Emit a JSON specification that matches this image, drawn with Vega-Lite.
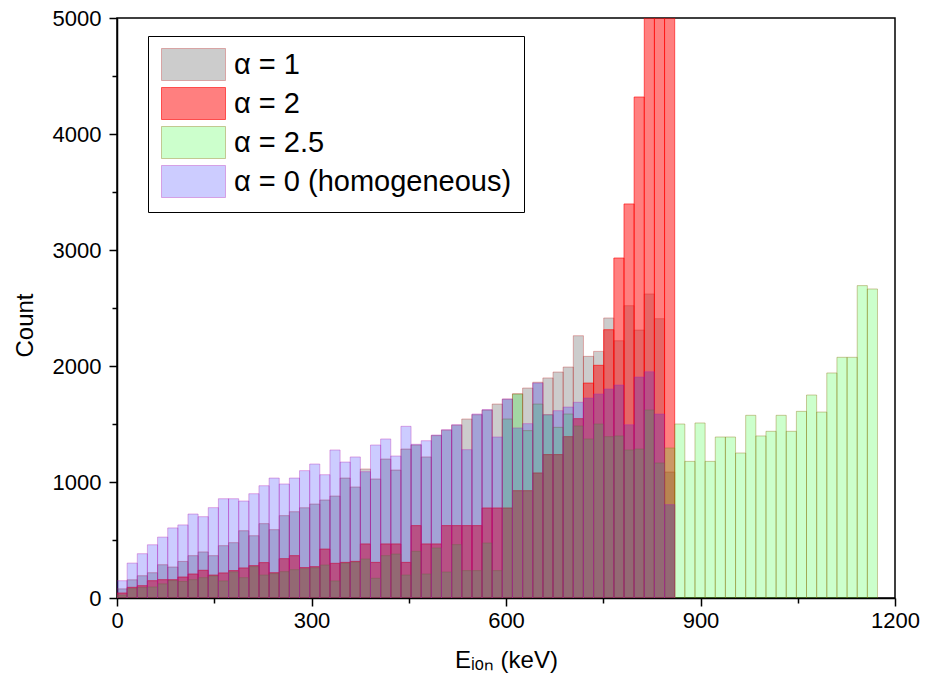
{
  "$schema": "https://vega.github.io/schema/vega-lite/v6.json",
  "width": 778,
  "height": 580,
  "autosize": {"type": "none"},
  "padding": {"left": 117, "top": 18, "right": 30, "bottom": 86},
  "background": "white",
  "config": {
    "view": {"stroke": "black", "strokeWidth": 1.5},
    "font": "Liberation Sans",
    "axis": {"grid": false, "domainColor": "black", "domainWidth": 1.5, "tickColor": "black", "tickWidth": 1.5, "labelColor": "black", "titleColor": "black", "labelFont": "Liberation Sans", "titleFont": "Liberation Sans", "titleFontWeight": "normal", "labelFontSize": 22, "titleFontSize": 24, "labelOverlap": false, "labelFlush": false}
  },
  "data": {"values": [
    {"s":"α = 1","a":0,"b":15.64,"n":79},{"s":"α = 1","a":15.64,"b":31.28,"n":157},{"s":"α = 1","a":31.28,"b":46.92,"n":192},{"s":"α = 1","a":46.92,"b":62.56,"n":218},{"s":"α = 1","a":62.56,"b":78.2,"n":287},{"s":"α = 1","a":78.2,"b":93.84,"n":267},{"s":"α = 1","a":93.84,"b":109.48,"n":315},{"s":"α = 1","a":109.48,"b":125.12,"n":365},{"s":"α = 1","a":125.12,"b":140.76,"n":397},{"s":"α = 1","a":140.76,"b":156.4,"n":365},
    {"s":"α = 1","a":156.4,"b":172.04,"n":451},{"s":"α = 1","a":172.04,"b":187.68,"n":477},{"s":"α = 1","a":187.68,"b":203.32,"n":580},{"s":"α = 1","a":203.32,"b":218.96,"n":537},{"s":"α = 1","a":218.96,"b":234.6,"n":641},{"s":"α = 1","a":234.6,"b":250.24,"n":589},{"s":"α = 1","a":250.24,"b":265.88,"n":710},{"s":"α = 1","a":265.88,"b":281.52,"n":744},{"s":"α = 1","a":281.52,"b":297.16,"n":778},{"s":"α = 1","a":297.16,"b":312.8,"n":810},
    {"s":"α = 1","a":312.8,"b":328.44,"n":845},{"s":"α = 1","a":328.44,"b":344.08,"n":879},{"s":"α = 1","a":344.08,"b":359.72,"n":1034},{"s":"α = 1","a":359.72,"b":375.36,"n":957},{"s":"α = 1","a":375.36,"b":391,"n":1112},{"s":"α = 1","a":391,"b":406.64,"n":1026},{"s":"α = 1","a":406.64,"b":422.28,"n":1198},{"s":"α = 1","a":422.28,"b":437.92,"n":1103},{"s":"α = 1","a":437.92,"b":453.56,"n":1284},{"s":"α = 1","a":453.56,"b":469.2,"n":1319},
    {"s":"α = 1","a":469.2,"b":484.84,"n":1216},{"s":"α = 1","a":484.84,"b":500.48,"n":1400},{"s":"α = 1","a":500.48,"b":516.12,"n":1447},{"s":"α = 1","a":516.12,"b":531.76,"n":1490},{"s":"α = 1","a":531.76,"b":547.4,"n":1543},{"s":"α = 1","a":547.4,"b":563.04,"n":1580},{"s":"α = 1","a":563.04,"b":578.68,"n":1620},{"s":"α = 1","a":578.68,"b":594.32,"n":1672},{"s":"α = 1","a":594.32,"b":609.96,"n":1714},{"s":"α = 1","a":609.96,"b":625.6,"n":1761},
    {"s":"α = 1","a":625.6,"b":641.24,"n":1810},{"s":"α = 1","a":641.24,"b":656.88,"n":1860},{"s":"α = 1","a":656.88,"b":672.52,"n":1897},{"s":"α = 1","a":672.52,"b":688.16,"n":1948},{"s":"α = 1","a":688.16,"b":703.8,"n":1991},{"s":"α = 1","a":703.8,"b":719.44,"n":2261},{"s":"α = 1","a":719.44,"b":735.08,"n":2083},{"s":"α = 1","a":735.08,"b":750.72,"n":2126},{"s":"α = 1","a":750.72,"b":766.36,"n":2414},{"s":"α = 1","a":766.36,"b":782,"n":2218},
    {"s":"α = 1","a":782,"b":797.64,"n":2520},{"s":"α = 1","a":797.64,"b":813.28,"n":2310},{"s":"α = 1","a":813.28,"b":828.92,"n":2621},{"s":"α = 1","a":828.92,"b":844.56,"n":2408},{"s":"α = 1","a":844.56,"b":860.2,"n":1086},

    {"s":"α = 2","a":0,"b":15.64,"n":43},{"s":"α = 2","a":15.64,"b":31.28,"n":92},{"s":"α = 2","a":31.28,"b":46.92,"n":106},{"s":"α = 2","a":46.92,"b":62.56,"n":149},{"s":"α = 2","a":62.56,"b":78.2,"n":158},{"s":"α = 2","a":78.2,"b":93.84,"n":158},{"s":"α = 2","a":93.84,"b":109.48,"n":181},{"s":"α = 2","a":109.48,"b":125.12,"n":207},{"s":"α = 2","a":125.12,"b":140.76,"n":239},{"s":"α = 2","a":140.76,"b":156.4,"n":198},
    {"s":"α = 2","a":156.4,"b":172.04,"n":216},{"s":"α = 2","a":172.04,"b":187.68,"n":236},{"s":"α = 2","a":187.68,"b":203.32,"n":259},{"s":"α = 2","a":203.32,"b":218.96,"n":279},{"s":"α = 2","a":218.96,"b":234.6,"n":305},{"s":"α = 2","a":234.6,"b":250.24,"n":218},{"s":"α = 2","a":250.24,"b":265.88,"n":339},{"s":"α = 2","a":265.88,"b":281.52,"n":365},{"s":"α = 2","a":281.52,"b":297.16,"n":262},{"s":"α = 2","a":297.16,"b":312.8,"n":270},
    {"s":"α = 2","a":312.8,"b":328.44,"n":422},{"s":"α = 2","a":328.44,"b":344.08,"n":299},{"s":"α = 2","a":344.08,"b":359.72,"n":307},{"s":"α = 2","a":359.72,"b":375.36,"n":316},{"s":"α = 2","a":375.36,"b":391,"n":466},{"s":"α = 2","a":391,"b":406.64,"n":307},{"s":"α = 2","a":406.64,"b":422.28,"n":466},{"s":"α = 2","a":422.28,"b":437.92,"n":466},{"s":"α = 2","a":437.92,"b":453.56,"n":307},{"s":"α = 2","a":453.56,"b":469.2,"n":624},
    {"s":"α = 2","a":469.2,"b":484.84,"n":466},{"s":"α = 2","a":484.84,"b":500.48,"n":466},{"s":"α = 2","a":500.48,"b":516.12,"n":624},{"s":"α = 2","a":516.12,"b":531.76,"n":624},{"s":"α = 2","a":531.76,"b":547.4,"n":624},{"s":"α = 2","a":547.4,"b":563.04,"n":624},{"s":"α = 2","a":563.04,"b":578.68,"n":776},{"s":"α = 2","a":578.68,"b":594.32,"n":776},{"s":"α = 2","a":594.32,"b":609.96,"n":776},{"s":"α = 2","a":609.96,"b":625.6,"n":925},
    {"s":"α = 2","a":625.6,"b":641.24,"n":925},{"s":"α = 2","a":641.24,"b":656.88,"n":1078},{"s":"α = 2","a":656.88,"b":672.52,"n":1236},{"s":"α = 2","a":672.52,"b":688.16,"n":1236},{"s":"α = 2","a":688.16,"b":703.8,"n":1391},{"s":"α = 2","a":703.8,"b":719.44,"n":1546},{"s":"α = 2","a":719.44,"b":735.08,"n":1853},{"s":"α = 2","a":735.08,"b":750.72,"n":2006},{"s":"α = 2","a":750.72,"b":766.36,"n":2313},{"s":"α = 2","a":766.36,"b":782,"n":2931},
    {"s":"α = 2","a":782,"b":797.64,"n":3397},{"s":"α = 2","a":797.64,"b":813.28,"n":4319},{"s":"α = 2","a":813.28,"b":828.92,"n":5600},{"s":"α = 2","a":828.92,"b":844.56,"n":6000},{"s":"α = 2","a":844.56,"b":860.2,"n":6200},

    {"s":"α = 2.5","a":0,"b":15.64,"n":25},{"s":"α = 2.5","a":15.64,"b":31.28,"n":81},{"s":"α = 2.5","a":31.28,"b":46.92,"n":90},{"s":"α = 2.5","a":46.92,"b":62.56,"n":95},{"s":"α = 2.5","a":62.56,"b":78.2,"n":122},{"s":"α = 2.5","a":78.2,"b":93.84,"n":150},{"s":"α = 2.5","a":93.84,"b":109.48,"n":142},{"s":"α = 2.5","a":109.48,"b":125.12,"n":158},{"s":"α = 2.5","a":125.12,"b":140.76,"n":175},{"s":"α = 2.5","a":140.76,"b":156.4,"n":190},
    {"s":"α = 2.5","a":156.4,"b":172.04,"n":147},{"s":"α = 2.5","a":172.04,"b":187.68,"n":225},{"s":"α = 2.5","a":187.68,"b":203.32,"n":175},{"s":"α = 2.5","a":203.32,"b":218.96,"n":270},{"s":"α = 2.5","a":218.96,"b":234.6,"n":198},{"s":"α = 2.5","a":234.6,"b":250.24,"n":210},{"s":"α = 2.5","a":250.24,"b":265.88,"n":227},{"s":"α = 2.5","a":265.88,"b":281.52,"n":244},{"s":"α = 2.5","a":281.52,"b":297.16,"n":252},{"s":"α = 2.5","a":297.16,"b":312.8,"n":260},
    {"s":"α = 2.5","a":312.8,"b":328.44,"n":284},{"s":"α = 2.5","a":328.44,"b":344.08,"n":147},{"s":"α = 2.5","a":344.08,"b":359.72,"n":300},{"s":"α = 2.5","a":359.72,"b":375.36,"n":310},{"s":"α = 2.5","a":375.36,"b":391,"n":336},{"s":"α = 2.5","a":391,"b":406.64,"n":170},{"s":"α = 2.5","a":406.64,"b":422.28,"n":365},{"s":"α = 2.5","a":422.28,"b":437.92,"n":379},{"s":"α = 2.5","a":437.92,"b":453.56,"n":198},{"s":"α = 2.5","a":453.56,"b":469.2,"n":402},
    {"s":"α = 2.5","a":469.2,"b":484.84,"n":207},{"s":"α = 2.5","a":484.84,"b":500.48,"n":431},{"s":"α = 2.5","a":500.48,"b":516.12,"n":224},{"s":"α = 2.5","a":516.12,"b":531.76,"n":460},{"s":"α = 2.5","a":531.76,"b":547.4,"n":236},{"s":"α = 2.5","a":547.4,"b":563.04,"n":236},{"s":"α = 2.5","a":563.04,"b":578.68,"n":474},{"s":"α = 2.5","a":578.68,"b":594.32,"n":236},{"s":"α = 2.5","a":594.32,"b":609.96,"n":1543},{"s":"α = 2.5","a":609.96,"b":625.6,"n":1758},
    {"s":"α = 2.5","a":625.6,"b":641.24,"n":1443},{"s":"α = 2.5","a":641.24,"b":656.88,"n":1672},{"s":"α = 2.5","a":656.88,"b":672.52,"n":1580},{"s":"α = 2.5","a":672.52,"b":688.16,"n":1471},{"s":"α = 2.5","a":688.16,"b":703.8,"n":1586},{"s":"α = 2.5","a":703.8,"b":719.44,"n":1483},{"s":"α = 2.5","a":719.44,"b":735.08,"n":1371},{"s":"α = 2.5","a":735.08,"b":750.72,"n":1500},{"s":"α = 2.5","a":750.72,"b":766.36,"n":1391},{"s":"α = 2.5","a":766.36,"b":782,"n":1397},
    {"s":"α = 2.5","a":782,"b":797.64,"n":1276},{"s":"α = 2.5","a":797.64,"b":813.28,"n":1284},{"s":"α = 2.5","a":813.28,"b":828.92,"n":1621},{"s":"α = 2.5","a":828.92,"b":844.56,"n":1164},{"s":"α = 2.5","a":844.56,"b":860.2,"n":1293},{"s":"α = 2.5","a":860.2,"b":875.84,"n":1500},{"s":"α = 2.5","a":875.84,"b":891.48,"n":1178},{"s":"α = 2.5","a":891.48,"b":907.12,"n":1509},{"s":"α = 2.5","a":907.12,"b":922.76,"n":1178},{"s":"α = 2.5","a":922.76,"b":938.4,"n":1388},
    {"s":"α = 2.5","a":938.4,"b":954.04,"n":1388},{"s":"α = 2.5","a":954.04,"b":969.68,"n":1250},{"s":"α = 2.5","a":969.68,"b":985.32,"n":1575},{"s":"α = 2.5","a":985.32,"b":1000.96,"n":1397},{"s":"α = 2.5","a":1000.96,"b":1016.6,"n":1437},{"s":"α = 2.5","a":1016.6,"b":1032.24,"n":1575},{"s":"α = 2.5","a":1032.24,"b":1047.88,"n":1437},{"s":"α = 2.5","a":1047.88,"b":1063.52,"n":1609},{"s":"α = 2.5","a":1063.52,"b":1079.16,"n":1750},{"s":"α = 2.5","a":1079.16,"b":1094.8,"n":1603},
    {"s":"α = 2.5","a":1094.8,"b":1110.44,"n":1940},{"s":"α = 2.5","a":1110.44,"b":1126.08,"n":2075},{"s":"α = 2.5","a":1126.08,"b":1141.72,"n":2075},{"s":"α = 2.5","a":1141.72,"b":1157.36,"n":2693},{"s":"α = 2.5","a":1157.36,"b":1173,"n":2664},

    {"s":"α = 0 (homogeneous)","a":0,"b":15.64,"n":149},{"s":"α = 0 (homogeneous)","a":15.64,"b":31.28,"n":301},{"s":"α = 0 (homogeneous)","a":31.28,"b":46.92,"n":382},{"s":"α = 0 (homogeneous)","a":46.92,"b":62.56,"n":459},{"s":"α = 0 (homogeneous)","a":62.56,"b":78.2,"n":525},{"s":"α = 0 (homogeneous)","a":78.2,"b":93.84,"n":604},{"s":"α = 0 (homogeneous)","a":93.84,"b":109.48,"n":630},{"s":"α = 0 (homogeneous)","a":109.48,"b":125.12,"n":724},{"s":"α = 0 (homogeneous)","a":125.12,"b":140.76,"n":701},{"s":"α = 0 (homogeneous)","a":140.76,"b":156.4,"n":779},
    {"s":"α = 0 (homogeneous)","a":156.4,"b":172.04,"n":856},{"s":"α = 0 (homogeneous)","a":172.04,"b":187.68,"n":856},{"s":"α = 0 (homogeneous)","a":187.68,"b":203.32,"n":836},{"s":"α = 0 (homogeneous)","a":203.32,"b":218.96,"n":899},{"s":"α = 0 (homogeneous)","a":218.96,"b":234.6,"n":968},{"s":"α = 0 (homogeneous)","a":234.6,"b":250.24,"n":1034},{"s":"α = 0 (homogeneous)","a":250.24,"b":265.88,"n":983},{"s":"α = 0 (homogeneous)","a":265.88,"b":281.52,"n":1034},{"s":"α = 0 (homogeneous)","a":281.52,"b":297.16,"n":1098},{"s":"α = 0 (homogeneous)","a":297.16,"b":312.8,"n":1155},
    {"s":"α = 0 (homogeneous)","a":312.8,"b":328.44,"n":1063},{"s":"α = 0 (homogeneous)","a":328.44,"b":344.08,"n":1276},{"s":"α = 0 (homogeneous)","a":344.08,"b":359.72,"n":1172},{"s":"α = 0 (homogeneous)","a":359.72,"b":375.36,"n":1216},{"s":"α = 0 (homogeneous)","a":375.36,"b":391,"n":1089},{"s":"α = 0 (homogeneous)","a":391,"b":406.64,"n":1319},{"s":"α = 0 (homogeneous)","a":406.64,"b":422.28,"n":1371},{"s":"α = 0 (homogeneous)","a":422.28,"b":437.92,"n":1224},{"s":"α = 0 (homogeneous)","a":437.92,"b":453.56,"n":1480},{"s":"α = 0 (homogeneous)","a":453.56,"b":469.2,"n":1325},
    {"s":"α = 0 (homogeneous)","a":469.2,"b":484.84,"n":1356},{"s":"α = 0 (homogeneous)","a":484.84,"b":500.48,"n":1405},{"s":"α = 0 (homogeneous)","a":500.48,"b":516.12,"n":1451},{"s":"α = 0 (homogeneous)","a":516.12,"b":531.76,"n":1494},{"s":"α = 0 (homogeneous)","a":531.76,"b":547.4,"n":1279},{"s":"α = 0 (homogeneous)","a":547.4,"b":563.04,"n":1586},{"s":"α = 0 (homogeneous)","a":563.04,"b":578.68,"n":1624},{"s":"α = 0 (homogeneous)","a":578.68,"b":594.32,"n":1388},{"s":"α = 0 (homogeneous)","a":594.32,"b":609.96,"n":1716},{"s":"α = 0 (homogeneous)","a":609.96,"b":625.6,"n":1466},
    {"s":"α = 0 (homogeneous)","a":625.6,"b":641.24,"n":1503},{"s":"α = 0 (homogeneous)","a":641.24,"b":656.88,"n":1853},{"s":"α = 0 (homogeneous)","a":656.88,"b":672.52,"n":1580},{"s":"α = 0 (homogeneous)","a":672.52,"b":688.16,"n":1615},{"s":"α = 0 (homogeneous)","a":688.16,"b":703.8,"n":1646},{"s":"α = 0 (homogeneous)","a":703.8,"b":719.44,"n":1687},{"s":"α = 0 (homogeneous)","a":719.44,"b":735.08,"n":1724},{"s":"α = 0 (homogeneous)","a":735.08,"b":750.72,"n":1759},{"s":"α = 0 (homogeneous)","a":750.72,"b":766.36,"n":1802},{"s":"α = 0 (homogeneous)","a":766.36,"b":782,"n":1836},
    {"s":"α = 0 (homogeneous)","a":782,"b":797.64,"n":1494},{"s":"α = 0 (homogeneous)","a":797.64,"b":813.28,"n":1905},{"s":"α = 0 (homogeneous)","a":813.28,"b":828.92,"n":1951},{"s":"α = 0 (homogeneous)","a":828.92,"b":844.56,"n":1586},{"s":"α = 0 (homogeneous)","a":844.56,"b":860.2,"n":805}
  ]},
  "mark": {"type": "bar", "clip": true, "strokeWidth": 1},
  "encoding": {
    "x": {"field": "a", "type": "quantitative",
      "scale": {"domain": [0, 1200], "nice": false, "zero": false},
      "axis": {"values": [0,150,300,450,600,750,900,1050,1200], "labelExpr": "datum.value % 300 === 0 ? datum.label : ''", "format": "d", "tickSize": {"condition": {"test": "datum.value % 300 !== 0", "value": 5}, "value": 8}, "labelPadding": 4, "title": "Eᵢₒₙ (keV)", "titlePadding": 17}},
    "x2": {"field": "b"},
    "y": {"field": "n", "type": "quantitative",
      "scale": {"domain": [0, 5000], "nice": false},
      "axis": {"values": [0,500,1000,1500,2000,2500,3000,3500,4000,4500,5000], "labelExpr": "datum.value % 1000 === 0 ? datum.label : ''", "format": "d", "tickSize": {"condition": {"test": "datum.value % 1000 !== 0", "value": 5}, "value": 8}, "labelPadding": 8, "title": "Count", "titlePadding": 15, "titleY": 307}},
    "y2": {"datum": 0},
    "fill": {"field": "s", "type": "nominal",
      "scale": {"domain": ["α = 1", "α = 2", "α = 2.5", "α = 0 (homogeneous)"], "range": ["rgba(0,0,0,0.2)", "rgba(255,0,0,0.5)", "rgba(0,255,0,0.2)", "rgba(0,0,255,0.2)"]},
      "legend": {"title": null, "orient": "none", "legendX": 31, "legendY": 18, "padding": 12, "strokeColor": "black", "fillColor": "white", "labelFont": "Liberation Sans", "labelFontSize": 29, "labelColor": "black", "labelLimit": 0, "labelOffset": 24, "symbolOffset": 17, "rowPadding": 2, "symbolType": "M-2,-1H2V1H-2Z", "symbolSize": 1024, "symbolStrokeWidth": 1}},
    "stroke": {"field": "s", "type": "nominal",
      "scale": {"domain": ["α = 1", "α = 2", "α = 2.5", "α = 0 (homogeneous)"], "range": ["rgba(190,40,40,0.35)", "rgba(255,0,0,0.6)", "rgba(140,120,20,0.4)", "rgba(180,30,180,0.35)"]}}
  }
}
